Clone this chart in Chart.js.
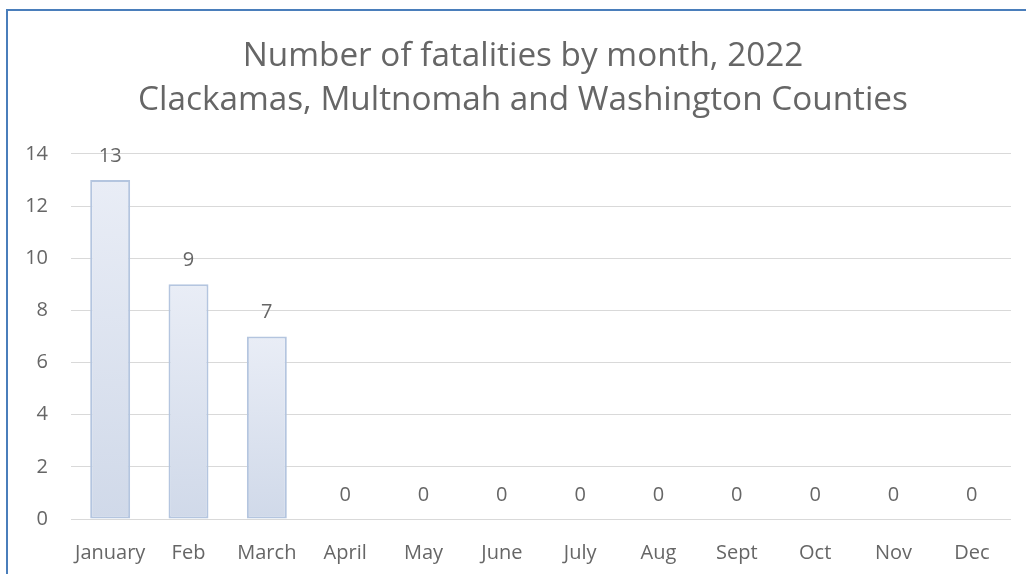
<!DOCTYPE html>
<html>
<head>
<meta charset="utf-8">
<script src="https://cdn.jsdelivr.net/npm/chart.js@4"></script>
<style>
  html, body { margin: 0; padding: 0; background: #fff; overflow: hidden; }
  #wrap { width: 1026px; height: 574px; }
</style>
</head>
<body>
<div id="wrap"><canvas id="myChart" width="1026" height="574"></canvas></div>
<script>
const months = ['January', 'Feb', 'March', 'April', 'May', 'June', 'July', 'Aug', 'Sept', 'Oct', 'Nov', 'Dec'];
const fatalities = [13, 9, 7, 0, 0, 0, 0, 0, 0, 0, 0, 0];
const yTicks = [0, 2, 4, 6, 8, 10, 12, 14];
const titleLines = ['Number of fatalities by month, 2022', 'Clackamas, Multnomah and Washington Counties'];

const textGray = '#666666';
const font = "'Open Sans', sans-serif";

// blue frame round the chart, like the Excel chart border
const frame = {
  id: 'frame',
  beforeDraw(chart) {
    const c = chart.ctx;
    c.save();
    c.fillStyle = '#fff';
    c.fillRect(0, 0, chart.width, chart.height);
    c.strokeStyle = '#4a7ebb';
    c.lineWidth = 2;
    c.strokeRect(7, 10, chart.width + 20, chart.height + 20);
    c.restore();
  }
};

// the Excel title is centred on the framed box, a bit right of the canvas centre
const titleShift = {
  id: 'titleShift',
  afterLayout(chart) {
    const t = chart.titleBlock;
    if (t) {
      t.left += 35;
      t.width = t.right - t.left;
    }
  }
};

// value labels above each bar
const valueLabels = {
  id: 'valueLabels',
  afterDatasetsDraw(chart) {
    const c = chart.ctx;
    const meta = chart.getDatasetMeta(0);
    c.save();
    c.font = '20px ' + font;
    c.fillStyle = textGray;
    c.textAlign = 'center';
    c.textBaseline = 'middle';
    meta.data.forEach((bar, i) => {
      c.fillText(String(fatalities[i]), bar.x, bar.y - 24);
    });
    c.restore();
  }
};

function barFill(context) {
  const chart = context.chart;
  const y = chart.scales.y;
  if (!y || context.raw === undefined) return '#dde4f0';
  const top = y.getPixelForValue(context.raw);
  const bottom = y.getPixelForValue(0);
  if (!(bottom > top)) return '#dde4f0';
  const g = chart.ctx.createLinearGradient(0, top, 0, bottom);
  g.addColorStop(0, '#e9edf6');
  g.addColorStop(1, '#d0d9e9');
  return g;
}

const ctx = document.getElementById('myChart').getContext('2d');
const myChart = new Chart(ctx, {
  type: 'bar',
  data: {
    labels: months,
    datasets: [{
      data: fatalities,
      backgroundColor: barFill,
      borderColor: '#b4c5df',
      borderWidth: 2,
      borderSkipped: false,
      barPercentage: 0.51,
      categoryPercentage: 1
    }]
  },
  options: {
    responsive: false,
    animation: false,
    layout: { padding: { left: 0, right: 15, top: 0, bottom: 0 } },
    plugins: {
      legend: { display: false },
      tooltip: { enabled: false },
      title: {
        display: true,
        text: titleLines,
        color: textGray,
        font: { family: font, size: 33.3, weight: 'normal', lineHeight: 1.32 },
        padding: { top: 35, bottom: 31 }
      }
    },
    scales: {
      x: {
        grid: { display: false },
        border: { display: false },
        ticks: { color: textGray, font: { family: font, size: 20 }, padding: 14, maxRotation: 0, autoSkip: false },
        afterFit(scale) { scale.height = 55; }
      },
      y: {
        min: 0,
        max: 14,
        afterBuildTicks(scale) { scale.ticks = yTicks.map(v => ({ value: v })); },
        grid: { color: '#d9d9d9', lineWidth: 1, drawTicks: false },
        border: { display: false },
        ticks: { color: textGray, font: { family: font, size: 20 }, padding: 23 },
        afterFit(scale) { scale.width = 71; }
      }
    }
  },
  plugins: [frame, titleShift, valueLabels]
});
</script>
</body>
</html>
